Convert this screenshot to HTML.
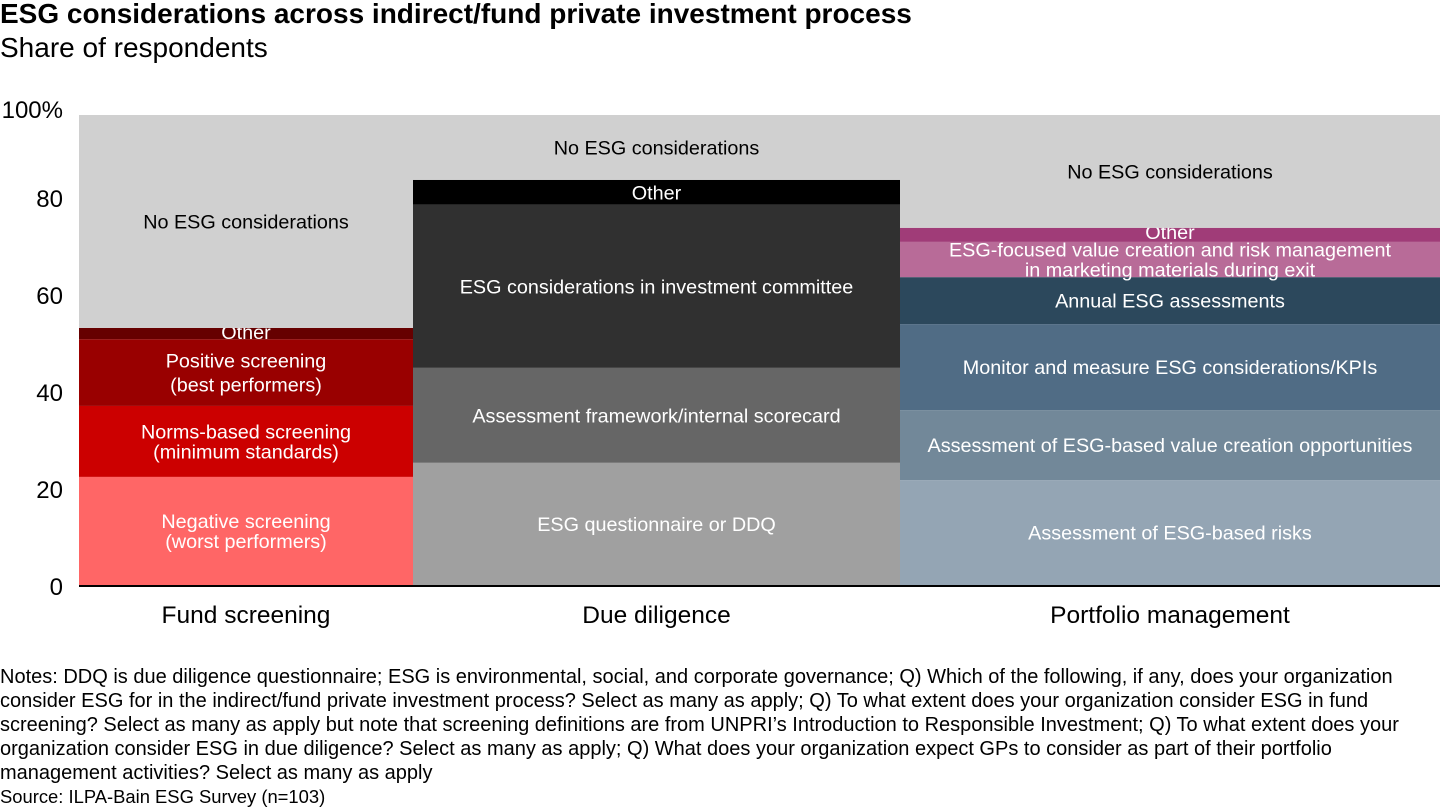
<!DOCTYPE html>
<html><head><meta charset="utf-8"><style>
body{margin:0;width:1440px;height:810px;background:#fff;font-family:"Liberation Sans",Arial,sans-serif;overflow:hidden;position:relative}
.t{position:absolute;left:0;top:-2px;font-size:28px;font-weight:bold;color:#000;white-space:nowrap}
.s{position:absolute;left:0;top:32px;font-size:28px;color:#000;white-space:nowrap}
.n{position:absolute;left:0;top:665px;width:1440px;font-size:20px;line-height:24px;color:#000;white-space:nowrap}
.src{font-size:18.4px}
svg{position:absolute;left:0;top:0}
</style></head><body>
<div class="t">ESG considerations across indirect/fund private investment process</div>
<div class="s">Share of respondents</div>
<svg id="c" width="1440" height="660"></svg>
<div class="n">Notes: DDQ is due diligence questionnaire; ESG is environmental, social, and corporate governance; Q) Which of the following, if any, does your organization<br>consider ESG for in the indirect/fund private investment process? Select as many as apply; Q) To what extent does your organization consider ESG in fund<br>screening? Select as many as apply but note that screening definitions are from UNPRI’s Introduction to Responsible Investment; Q) To what extent does your<br>organization consider ESG in due diligence? Select as many as apply; Q) What does your organization expect GPs to consider as part of their portfolio<br>management activities? Select as many as apply<br><span class="src">Source: ILPA-Bain ESG Survey (n=103)</span></div>
<script>
const categories=["Fund screening","Due diligence","Portfolio management"];
const fundLabels=["Negative screening|(worst performers)","Norms-based screening|(minimum standards)","Positive screening|(best performers)","Other","No ESG considerations"];
const fundValues=[23,15.1,14.2,2.4,45.3];
const ddLabels=["ESG questionnaire or DDQ","Assessment framework/internal scorecard","ESG considerations in investment committee","Other","No ESG considerations"];
const ddValues=[26,20.2,34.7,5.3,13.8];
const pmLabels=["Assessment of ESG-based risks","Assessment of ESG-based value creation opportunities","Monitor and measure ESG considerations/KPIs","Annual ESG assessments","ESG-focused value creation and risk management|in marketing materials during exit","Other","No ESG considerations"];
const pmValues=[22.3,14.9,18.3,10,7.5,3,24];
const tickValues=[0,20,40,60,80,100];
const tickLabels=["0","20","40","60","80","100%"];
const series=[[fundValues,fundLabels,["#ff6666","#cc0000","#990000","#660000","#d0d0d0"]],
[ddValues,ddLabels,["#a0a0a0","#666666","#303030","#000000","#d0d0d0"]],
[pmValues,pmLabels,["#94a5b4","#728899","#506c85","#2c485c","#b86b98","#a03c78","#d0d0d0"]]];
const xEdges=[79,413,900,1440];
const y0=585,ppu=4.7;
const y=v=>y0-v*ppu;
const ly=v=>587-v*4.85+(v===100?8:0);
const svg=document.getElementById('c');const NS="http://www.w3.org/2000/svg";
function mk(tag,a){const e=document.createElementNS(NS,tag);for(const k in a)e.setAttribute(k,a[k]);svg.appendChild(e);return e;}
series.forEach((s,ci)=>{
 let cum=0;const x0=xEdges[ci],w=xEdges[ci+1]-x0,cx=x0+w/2;
 s[0].forEach((v,i)=>{
  const r=mk('rect',{x:x0,y:y(cum+v),width:w,height:v*ppu,fill:s[2][i]});
  
  
  const lines=s[1][i].split('|');const dark=s[2][i]==="#d0d0d0";
  let mid=y(cum+v/2);
  if(s[1][i]==="Other"&&ci!==1)mid=y(cum+v)+4;
  const lh=(i===2&&ci===0)?24:20;
  lines.forEach((ln,j)=>{
   const t=mk('text',{x:cx,y:mid+(j-(lines.length-1)/2)*lh+7,'text-anchor':'middle','font-size':19.8,fill:dark?'#000':'#fff','font-family':'Liberation Sans, Arial, sans-serif'});
   t.textContent=ln;
   
   
  });
  cum+=v;
 });
 const c=mk('text',{x:cx,y:623,'text-anchor':'middle','font-size':24.5,fill:'#000','font-family':'Liberation Sans, Arial, sans-serif'});
 c.textContent=categories[ci];
 
 
});
const ax=mk('line',{x1:79,x2:1440,y1:586,y2:586,stroke:'#000','stroke-width':2});


tickValues.forEach((v,i)=>{
 const t=mk('text',{x:63,y:ly(v)+8,'text-anchor':'end','font-size':24,fill:'#000','font-family':'Liberation Sans, Arial, sans-serif'});
 t.textContent=tickLabels[i];
 
 
});
</script>
</body></html>
